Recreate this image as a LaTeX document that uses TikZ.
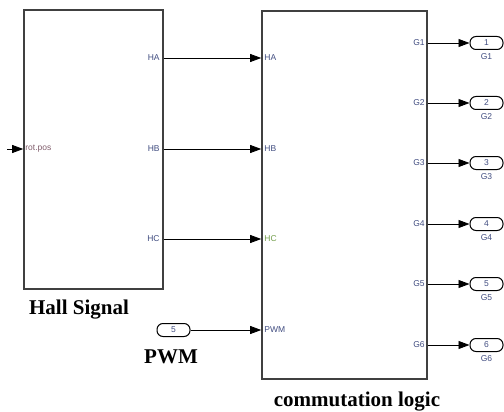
\documentclass[tikz,border=0pt]{standalone}
\usepackage{fontspec}
\setmainfont{Liberation Serif}
\setsansfont{Liberation Sans}
\usepackage{tikz}
\usetikzlibrary{arrows.meta,positioning}
\definecolor{portblue}{rgb}{0.25,0.30,0.50}
\definecolor{portgreen}{rgb}{0.45,0.62,0.30}
\definecolor{portbrown}{rgb}{0.50,0.36,0.42}
\definecolor{edgegray}{rgb}{0.25,0.25,0.25}

\begin{document}
\begin{tikzpicture}[x=1pt, y=-1pt,
  block/.style={draw=edgegray, line width=1.6pt, inner sep=0pt},
  sig/.style={-{Triangle[length=11pt,width=8pt]}, line width=0.8pt},
  port/.style={font=\sffamily\fontsize{8.5}{9}\selectfont, text=portblue, inner sep=0pt},
  oval/.style={draw, line width=1pt, rounded corners=6pt, minimum width=33pt,
    minimum height=13pt, inner sep=0pt, text=portblue,
    font=\sffamily\fontsize{8.5}{9}\selectfont},
  caption/.style={font=\bfseries\fontsize{21}{24}\selectfont, inner sep=0pt}]
  \useasboundingbox (0,0) rectangle (504,412);
  % ── Hall signal block ──
  \node[block, minimum width=139pt, minimum height=279pt] (hall) at (93.5,149.5) {};
  \node[caption] (hallname) at (79,310) {Hall Signal};
  \coordinate (rotin) at (7,149);
  \node[port, text=portbrown, anchor=west] (rotpos) at ([xshift=2pt]hall.west |- rotin) {rot.pos};
  \draw[sig] (rotin) -- (hall.west |- rotin);
  % ── Commutation logic block ──
  \node[block, minimum width=165pt, minimum height=368pt] (logic) at (344.5,195) {};
  \node[caption] (logicname) at (357,402) {commutation logic};
  % Hall outputs -> logic inputs
  \foreach \h/\y/\c in {HA/58/portblue, HB/149/portblue, HC/239/portgreen}{
    \node[port, anchor=east] (out\h) at ([xshift=-4pt]hall.east |- 0,\y) {\h};
    \node[port, text=\c, anchor=west] (in\h) at ([xshift=3pt]logic.west |- 0,\y) {\h};
    \draw[sig] (hall.east |- out\h) -- (logic.west |- in\h);
  }
  % ── PWM input ──
  \node[oval] (pwm) at (173.5,330) {5};
  \node[caption] (pwmname) at (171,357) {PWM};
  \node[port, anchor=west] (inPWM) at ([xshift=3pt]logic.west |- pwm) {PWM};
  \draw[sig] (pwm) -- (logic.west |- pwm);
  % ── Gate outputs ──
  \foreach \i/\y in {1/43, 2/103, 3/163, 4/224, 5/284, 6/345}{
    \node[port, anchor=east] (g\i) at ([xshift=-3pt]logic.east |- 0,\y) {G\i};
    \node[oval] (outg\i) at (486.5,\y) {\i};
    \node[port, below=3.5pt of outg\i] (gname\i) {G\i};
    \draw[sig] (logic.east |- g\i) -- (outg\i.west);
  }
\end{tikzpicture}
\end{document}
